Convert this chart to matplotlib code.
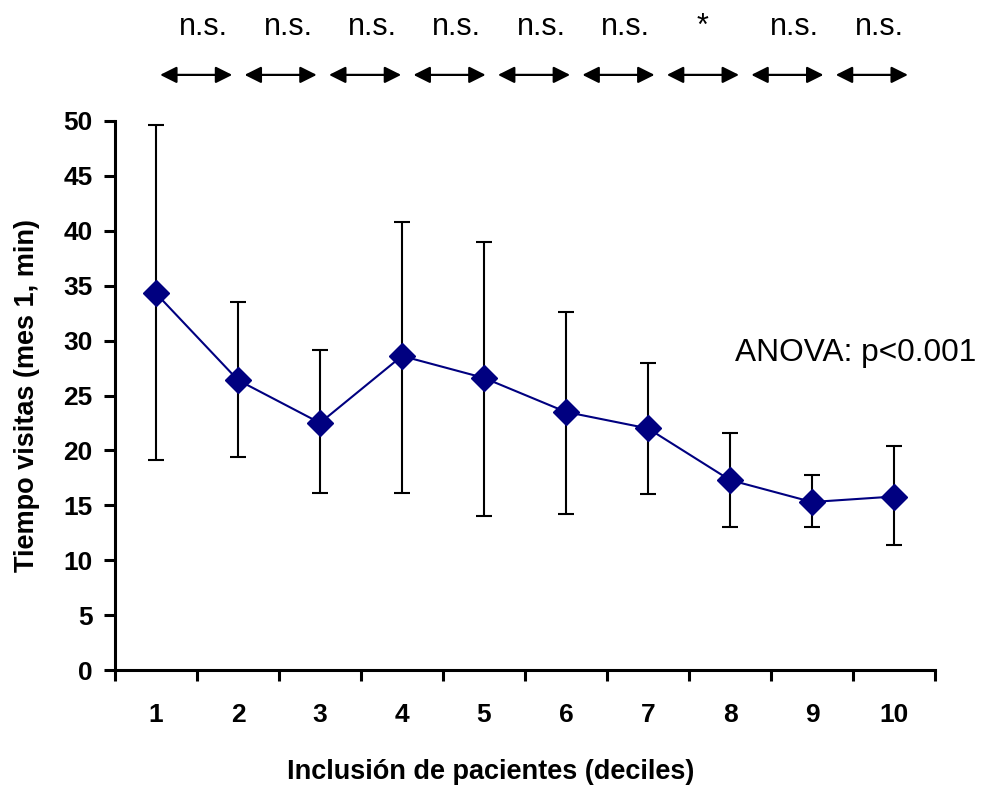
import matplotlib
matplotlib.use("Agg")
import matplotlib.pyplot as plt
import numpy as np

# Visit time per inclusion decile (mean with lower/upper bounds)
deciles = [1, 2, 3, 4, 5, 6, 7, 8, 9, 10]
mean_time = [34.3, 26.4, 22.5, 28.6, 26.6, 23.5, 22.0, 17.3, 15.3, 15.8]
upper_time = [49.6, 33.5, 29.1, 40.8, 39.0, 32.6, 28.0, 21.6, 17.8, 20.4]
lower_time = [19.1, 19.4, 16.1, 16.1, 14.0, 14.2, 16.0, 13.0, 13.0, 11.4]

# Pairwise comparisons between consecutive deciles
pair_labels = ["n.s.", "n.s.", "n.s.", "n.s.", "n.s.", "n.s.", "*", "n.s.", "n.s."]
anova_text = "ANOVA: p<0.001"

plt.rcParams["font.family"] = ["Liberation Sans", "DejaVu Sans"]

fig = plt.figure(figsize=(9.82, 7.87), dpi=100)
ax = fig.add_axes([115 / 982, 1 - 670 / 787, 820 / 982, 549 / 787])

x = np.array(deciles)
m = np.array(mean_time)
err = [m - np.array(lower_time), np.array(upper_time) - m]

ax.errorbar(x, m, yerr=err, fmt="none", ecolor="black", elinewidth=1.5,
            capsize=6, capthick=1.5, zorder=2)
ax.plot(x, m, color="#000080", lw=1.5, marker="D", ms=13,
        markerfacecolor="#000080", markeredgecolor="#000080", zorder=3)

ax.set_xlim(0.5, 10.5)
ax.set_ylim(0, 50)
ax.set_yticks(np.arange(0, 51, 5))
ax.set_xticks(x)
ax.set_xticks(np.arange(0.5, 10.6, 1), minor=True)

for side in ["top", "right"]:
    ax.spines[side].set_visible(False)
for side in ["left", "bottom"]:
    ax.spines[side].set_linewidth(2.2)

ax.tick_params(axis="y", which="major", length=8, width=2.2, pad=8,
               labelsize=19)
ax.tick_params(axis="x", which="major", length=0, pad=24, labelsize=19)
ax.tick_params(axis="x", which="minor", length=8, width=2.2)
for lab in ax.get_xticklabels() + ax.get_yticklabels():
    lab.set_fontweight("bold")

ax.set_xlabel("Inclusión de pacientes (deciles)", fontsize=19.5,
              fontweight="bold", labelpad=23)
ax.xaxis.label.set_x(0.4585)
ax.set_ylabel("Tiempo visitas (mes 1, min)", fontsize=19.5,
              fontweight="bold", labelpad=17)

# Significance arrows above the plot
trans = ax.get_xaxis_transform()
for k, lab in enumerate(pair_labels):
    cx = 1.49 + k * 1.03
    ax.annotate("", xy=(cx - 0.44, 1.084), xytext=(cx + 0.44, 1.084),
                xycoords=trans, textcoords=trans, annotation_clip=False,
                arrowprops=dict(arrowstyle="<|-|>,head_length=1.0,head_width=0.5",
                                color="black", lw=1.6, shrinkA=0, shrinkB=0))
    dx = 0.0 if lab == "*" else 0.09
    ax.text(cx + dx, 1.171, lab, transform=trans, ha="center", va="center",
            fontsize=22, clip_on=False)

ax.text(8.06, 28.9, anova_text, fontsize=22.8, ha="left", va="center")

fig.savefig("out.png", dpi=100)
